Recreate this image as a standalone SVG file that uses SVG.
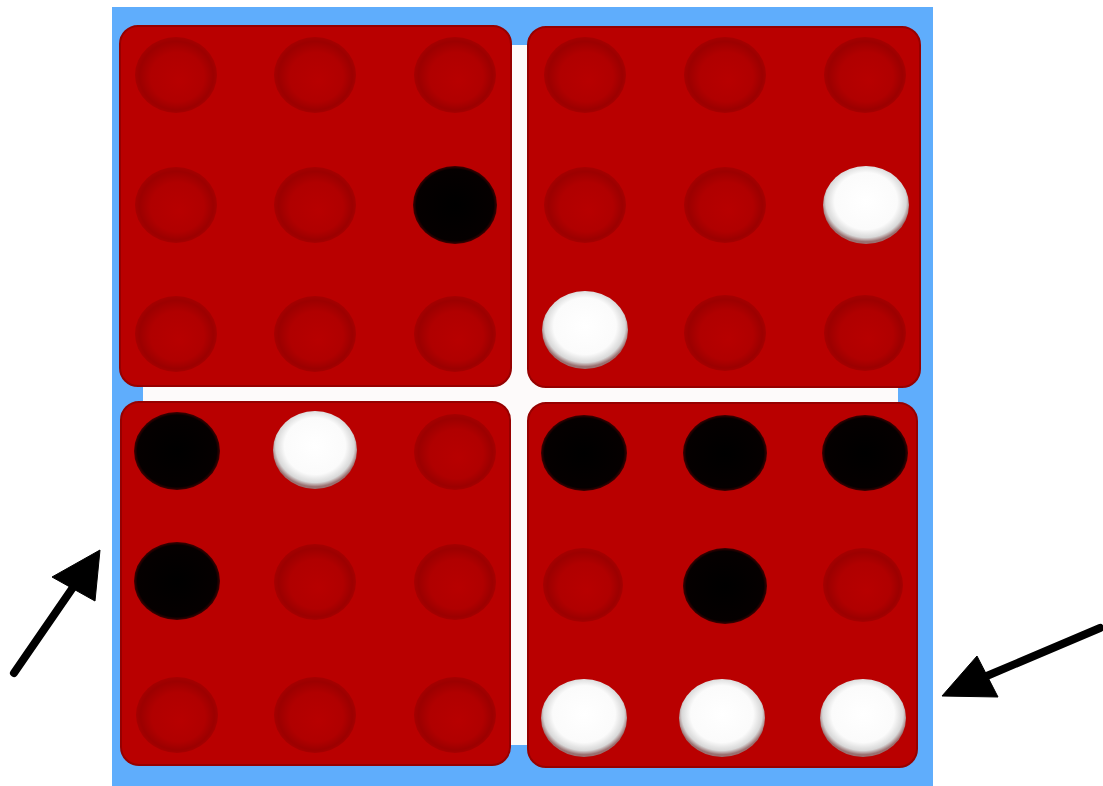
<svg xmlns="http://www.w3.org/2000/svg" width="1103" height="786" viewBox="0 0 1103 786">
<defs>
<radialGradient id="hole" cx="50%" cy="50%" r="50%" fx="55%" fy="58%">
<stop offset="0" stop-color="#b70000"/>
<stop offset="0.65" stop-color="#b00000"/>
<stop offset="0.9" stop-color="#9c0000"/>
<stop offset="1" stop-color="#a50000"/>
</radialGradient>
<radialGradient id="white" cx="50%" cy="45%" r="52%">
<stop offset="0" stop-color="#ffffff"/>
<stop offset="0.7" stop-color="#fbfbfb"/>
<stop offset="0.9" stop-color="#d8d8d8"/>
<stop offset="1" stop-color="#9a7070"/>
</radialGradient>
<radialGradient id="black" cx="50%" cy="50%" r="50%">
<stop offset="0" stop-color="#000000"/>
<stop offset="0.92" stop-color="#050000"/>
<stop offset="1" stop-color="#400000"/>
</radialGradient>
</defs>
<style>
.board{fill:#b90000;stroke:#960000;stroke-width:2}
.hole{fill:url(#hole)}
.bp{fill:url(#black)}
.wp{fill:url(#white)}
.arrow{stroke:#000;stroke-width:8;stroke-linecap:round;fill:none}
.head{fill:#000;stroke:#000;stroke-width:1;stroke-linejoin:round}
</style>
<rect x="0" y="0" width="1103" height="786" fill="#ffffff"/>
<rect id="frame" x="112" y="7" width="821" height="779" fill="#5fadfc"/>
<rect x="143" y="45" width="755" height="700" rx="6" fill="#fdfafa"/>

<g id="quadrant-tl">
<rect class="board" x="120" y="26" width="391" height="360" rx="18"/>
<ellipse class="hole" cx="176" cy="75" rx="41" ry="38"/>
<ellipse class="hole" cx="315" cy="75" rx="41" ry="38"/>
<ellipse class="hole" cx="455" cy="75" rx="41" ry="38"/>
<ellipse class="hole" cx="176" cy="205" rx="41" ry="38"/>
<ellipse class="hole" cx="315" cy="205" rx="41" ry="38"/>
<ellipse class="bp" cx="455" cy="205" rx="42" ry="39"/>
<ellipse class="hole" cx="176" cy="334" rx="41" ry="38"/>
<ellipse class="hole" cx="315" cy="334" rx="41" ry="38"/>
<ellipse class="hole" cx="455" cy="334" rx="41" ry="38"/>
</g>

<g id="quadrant-tr">
<rect class="board" x="528" y="27" width="392" height="360" rx="18"/>
<ellipse class="hole" cx="585" cy="75" rx="41" ry="38"/>
<ellipse class="hole" cx="725" cy="75" rx="41" ry="38"/>
<ellipse class="hole" cx="865" cy="75" rx="41" ry="38"/>
<ellipse class="hole" cx="585" cy="205" rx="41" ry="38"/>
<ellipse class="hole" cx="725" cy="205" rx="41" ry="38"/>
<ellipse class="wp" cx="866" cy="205" rx="43" ry="39"/>
<ellipse class="wp" cx="585" cy="330" rx="43" ry="39"/>
<ellipse class="hole" cx="725" cy="333" rx="41" ry="38"/>
<ellipse class="hole" cx="865" cy="333" rx="41" ry="38"/>
</g>

<g id="quadrant-bl">
<rect class="board" x="121" y="402" width="389" height="363" rx="18"/>
<ellipse class="bp" cx="177" cy="451" rx="43" ry="39"/>
<ellipse class="wp" cx="315" cy="450" rx="42" ry="39"/>
<ellipse class="hole" cx="455" cy="452" rx="41" ry="38"/>
<ellipse class="bp" cx="177" cy="581" rx="43" ry="39"/>
<ellipse class="hole" cx="315" cy="582" rx="41" ry="38"/>
<ellipse class="hole" cx="455" cy="582" rx="41" ry="38"/>
<ellipse class="hole" cx="177" cy="715" rx="41" ry="38"/>
<ellipse class="hole" cx="315" cy="715" rx="41" ry="38"/>
<ellipse class="hole" cx="455" cy="715" rx="41" ry="38"/>
</g>

<g id="quadrant-br">
<rect class="board" x="528" y="403" width="389" height="364" rx="18"/>
<ellipse class="bp" cx="584" cy="453" rx="43" ry="38"/>
<ellipse class="bp" cx="725" cy="453" rx="42" ry="38"/>
<ellipse class="bp" cx="865" cy="453" rx="43" ry="38"/>
<ellipse class="hole" cx="583" cy="585" rx="40" ry="37"/>
<ellipse class="bp" cx="725" cy="586" rx="42" ry="38"/>
<ellipse class="hole" cx="863" cy="585" rx="40" ry="37"/>
<ellipse class="wp" cx="584" cy="718" rx="43" ry="39"/>
<ellipse class="wp" cx="722" cy="718" rx="43" ry="39"/>
<ellipse class="wp" cx="863" cy="718" rx="43" ry="39"/>
</g>

<g id="connectors">
<line class="arrow" x1="14" y1="673" x2="76" y2="583"/>
<polygon class="head" points="100,550 52,577 95,601"/>
<line class="arrow" x1="1100" y1="628" x2="982" y2="678"/>
<polygon class="head" points="942,696 977,656 998,697"/>
</g>
</svg>
